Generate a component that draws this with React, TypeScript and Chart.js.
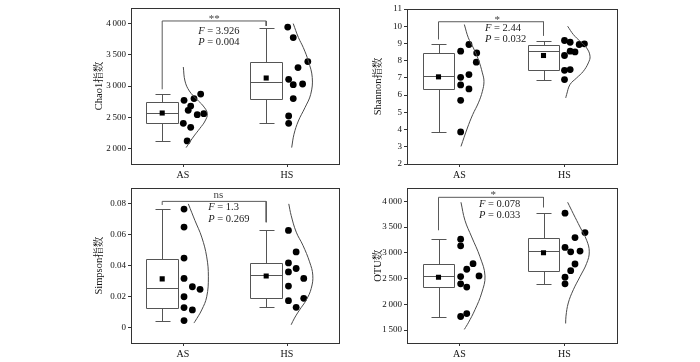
import React, { useEffect, useRef } from 'react';
import { Chart, registerables } from 'chart.js';

Chart.register(...registerables);

// ---------- data ----------
const categories = ['AS', 'HS'];

// Chao1
const chaoRange = [1750, 4250];
const chaoTicks = [2000, 2500, 3000, 3500, 4000];
const chaoAS = [2871, 2798, 2770, 2679, 2610, 2557, 2541, 2402, 2338, 2119];
const chaoASJitter = [0.17, 0.106, 0.01, 0.074, 0.05, 0.2, 0.137, 0.003, 0.074, 0.04];
const chaoHS = [3945, 3776, 3391, 3295, 3107, 3022, 3032, 2798, 2519, 2402];
const chaoHSJitter = [0.007, 0.06, 0.2, 0.106, 0.016, 0.06, 0.15, 0.06, 0.016, 0.016];
const chaoASBox = [2119, 2402, 2574, 2750, 2867];
const chaoHSBox = [2402, 2798, 3070, 3391, 3936];
const chaoMeans = [2567, 3128];
const chaoASCurveV = [3304, 3080, 2920, 2787, 2679, 2558, 2439, 2322, 2199, 2066, 2013];
const chaoASCurveW = [0.003, 0.019, 0.061, 0.132, 0.195, 0.234, 0.212, 0.163, 0.106, 0.051, 0.03];
const chaoHSCurveV = [4000, 3776, 3615, 3401, 3135, 2867, 2654, 2439, 2226, 2013];
const chaoHSCurveW = [0.06, 0.11, 0.157, 0.205, 0.243, 0.228, 0.173, 0.109, 0.067, 0.045];
const chaoBracket = [4042, 2947, 3962];
const chaoStats = ['**', '3.926', '0.004'];

// Shannon
const shRange = [2, 11];
const shTicks = [2, 3, 4, 5, 6, 7, 8, 9, 10, 11];
const shAS = [8.94, 8.55, 8.45, 7.91, 7.19, 7.03, 6.59, 6.36, 5.7, 3.86];
const shASJitter = [0.09, 0.011, 0.164, 0.16, 0.09, 0.011, 0.011, 0.09, 0.011, 0.011];
const shHS = [9.17, 9.07, 8.94, 8.98, 8.55, 8.51, 8.3, 7.48, 7.44, 6.9];
const shHSJitter = [0.0, 0.054, 0.14, 0.19, 0.054, 0.1, 0.0, 0.054, 0.0, 0.0];
const shASBox = [3.86, 6.36, 7.12, 8.45, 8.94];
const shHSBox = [6.9, 7.48, 8.55, 8.9, 9.17];
const shMeans = [7.06, 8.3];
const shASCurveV = [10.1, 9.33, 8.74, 8.06, 7.29, 6.8, 6.22, 5.55, 4.87, 4.09, 3.02];
const shASCurveW = [0.046, 0.084, 0.132, 0.18, 0.218, 0.233, 0.218, 0.18, 0.126, 0.075, 0.014];
const shHSCurveV = [10.0, 9.52, 9.13, 8.74, 8.26, 7.87, 7.38, 7.0, 6.61, 6.03, 5.84];
const shHSCurveW = [0.03, 0.084, 0.147, 0.211, 0.243, 0.227, 0.179, 0.116, 0.052, 0.02, 0.012];
const shBracket = [10.26, 9.23, 9.46];
const shStats = ['*', '2.44', '0.032'];

// Simpson
const siRange = [-0.01, 0.09];
const siTicks = [0, 0.02, 0.04, 0.06, 0.08];
const siAS = [0.0766, 0.065, 0.0449, 0.0318, 0.0264, 0.0247, 0.0199, 0.0129, 0.0114, 0.0045];
const siASJitter = [0.01, 0.01, 0.01, 0.01, 0.09, 0.164, 0.01, 0.01, 0.09, 0.01];
const siHS = [0.0628, 0.0489, 0.0418, 0.0382, 0.036, 0.0318, 0.0268, 0.0174, 0.0189, 0.0131];
const siHSJitter = [0.014, 0.088, 0.014, 0.088, 0.014, 0.161, 0.014, 0.014, 0.161, 0.088];
const siASBox = [0.0045, 0.0127, 0.0255, 0.0445, 0.0766];
const siHSBox = [0.0131, 0.0189, 0.0337, 0.0418, 0.0628];
const siMeans = [0.0315, 0.0333];
const siASCurveV = [0.08, 0.0692, 0.0585, 0.0457, 0.0328, 0.0199, 0.0114, 0.0039, 0.0029];
const siASCurveW = [0.051, 0.115, 0.18, 0.228, 0.244, 0.228, 0.18, 0.115, 0.105];
const siHSCurveV = [0.08, 0.0725, 0.0617, 0.0532, 0.0425, 0.0339, 0.0253, 0.0178, 0.0114, 0.0061, 0.0018];
const siHSCurveW = [0.017, 0.04, 0.089, 0.153, 0.217, 0.248, 0.233, 0.185, 0.121, 0.072, 0.04];
const siBracket = [0.0816, 0.0793, 0.0681];
const siStats = ['ns', '1.3', '0.269'];

// OTU
const otuRange = [1250, 4250];
const otuTicks = [1500, 2000, 2500, 3000, 3500, 4000];
const otuAS = [3264, 3135, 2789, 2681, 2552, 2539, 2398, 2335, 1821, 1764];
const otuASJitter = [0.011, 0.011, 0.129, 0.069, 0.186, 0.011, 0.011, 0.069, 0.069, 0.011];
const otuHS = [3769, 3392, 3296, 3104, 3019, 3033, 2783, 2654, 2527, 2398];
const otuHSJitter = [0.005, 0.195, 0.1, 0.005, 0.059, 0.148, 0.1, 0.059, 0.005, 0.005];
const otuASBox = [1764, 2335, 2552, 2783, 3264];
const otuHSBox = [2398, 2654, 3033, 3289, 3769];
const otuMeans = [2527, 3000];
const otuASCurveV = [3981, 3629, 3308, 2923, 2552, 2219, 1898, 1642, 1514];
const otuASCurveW = [0.014, 0.052, 0.116, 0.195, 0.243, 0.211, 0.148, 0.084, 0.046];
const otuHSCurveV = [3981, 3758, 3500, 3244, 3019, 2796, 2539, 2283, 2027, 1770, 1629];
const otuHSCurveW = [0.03, 0.084, 0.148, 0.211, 0.236, 0.211, 0.148, 0.084, 0.036, 0.014, 0.011];
const otuBracket = [4077, 3437, 3885];
const otuStats = ['*', '0.078', '0.033'];

// ---------- styling / layout ----------
const SERIF = "'Liberation Serif', 'Times New Roman', 'Noto Serif CJK SC', 'Noto Sans CJK SC', serif";
const W = 350;
const H = 181;
const TITLE_SIZE = 10.5;
const TICK_SIZE = 10;
const YTICK_SIZE = 9;
const BOX_OFF = -0.2;
const BOX_HALF = 0.152;
const CAP_HALF = 0.072;

const fmt = (v: number) => {
  if (Math.abs(v) >= 1000) return String(v).replace(/\B(?=(\d{3})+(?!\d))/g, '\u2009');
  return String(v);
};

type Group = { vals: number[]; jit: number[]; box: number[]; mean: number; cv: number[]; cw: number[] };
type Panel = {
  left: number; top: number;
  area: { left: number; top: number; right: number; bottom: number };
  titleX: number; yTitle: string;
  range: number[]; ticks: number[];
  groups: Group[];
  bracket: number[]; stats: string[];
  txt: { sigX: number; sigDy: number; fx: number; fDy: number; pDy: number };
};

const panels: Panel[] = [
  {
    left: 0, top: 0, area: { left: 131, top: 8, right: 339, bottom: 164 }, titleX: 99,
    yTitle: 'Chao1指数', range: chaoRange, ticks: chaoTicks,
    groups: [
      { vals: chaoAS, jit: chaoASJitter, box: chaoASBox, mean: chaoMeans[0], cv: chaoASCurveV, cw: chaoASCurveW },
      { vals: chaoHS, jit: chaoHSJitter, box: chaoHSBox, mean: chaoMeans[1], cv: chaoHSCurveV, cw: chaoHSCurveW },
    ],
    bracket: chaoBracket, stats: chaoStats,
    txt: { sigX: 0.3, sigDy: 1, fx: 0.147, fDy: 10.6, pDy: 21.6 },
  },
  {
    left: 350, top: 0, area: { left: 407, top: 9, right: 617, bottom: 164 }, titleX: 378.5,
    yTitle: 'Shannon指数', range: shRange, ticks: shTicks,
    groups: [
      { vals: shAS, jit: shASJitter, box: shASBox, mean: shMeans[0], cv: shASCurveV, cw: shASCurveW },
      { vals: shHS, jit: shHSJitter, box: shHSBox, mean: shMeans[1], cv: shHSCurveV, cw: shHSCurveW },
    ],
    bracket: shBracket, stats: shStats,
    txt: { sigX: 0.36, sigDy: 1, fx: 0.243, fDy: 6.5, pDy: 17.8 },
  },
  {
    left: 0, top: 181, area: { left: 131, top: 188, right: 339, bottom: 343 }, titleX: 99,
    yTitle: 'Simpson指数', range: siRange, ticks: siTicks,
    groups: [
      { vals: siAS, jit: siASJitter, box: siASBox, mean: siMeans[0], cv: siASCurveV, cw: siASCurveW },
      { vals: siHS, jit: siHSJitter, box: siHSBox, mean: siMeans[1], cv: siHSCurveV, cw: siHSCurveW },
    ],
    bracket: siBracket, stats: siStats,
    txt: { sigX: 0.34, sigDy: -3, fx: 0.243, fDy: 5.8, pDy: 17.8 },
  },
  {
    left: 350, top: 181, area: { left: 407, top: 188, right: 617, bottom: 343 }, titleX: 378.5,
    yTitle: 'OTU数', range: otuRange, ticks: otuTicks,
    groups: [
      { vals: otuAS, jit: otuASJitter, box: otuASBox, mean: otuMeans[0], cv: otuASCurveV, cw: otuASCurveW },
      { vals: otuHS, jit: otuHSJitter, box: otuHSBox, mean: otuMeans[1], cv: otuHSCurveV, cw: otuHSCurveW },
    ],
    bracket: otuBracket, stats: otuStats,
    txt: { sigX: 0.322, sigDy: 1, fx: 0.186, fDy: 7.3, pDy: 18.3 },
  },
];

function buildChart(canvas: HTMLCanvasElement, p: Panel) {
  const aL = p.area.left - p.left;
  const aR = p.area.right - p.left;
  const aT = p.area.top - p.top;
  const aB = p.area.bottom - p.top;
  const titleOffset = (TITLE_SIZE * 1.2) / 2;
  const padLeft = p.titleX - p.left - titleOffset;
  const yWidth = aL - padLeft;
  const xHeight = H - aB;

  const datasets: any[] = [];
  p.groups.forEach((g, gi) => {
    datasets.push({
      data: g.cv.map((v, i) => ({ x: gi + g.cw[i], y: v })),
      showLine: true, tension: 0.4, borderColor: '#4a4a4a', borderWidth: 1,
      pointRadius: 0, fill: false,
    });
    datasets.push({
      data: g.vals.map((v, i) => ({ x: gi + g.jit[i], y: v })),
      pointRadius: 3.4, backgroundColor: '#000', borderWidth: 0, pointStyle: 'circle',
    });
    datasets.push({
      data: [{ x: gi + BOX_OFF, y: g.mean }],
      pointRadius: 3.6, backgroundColor: '#000', borderWidth: 0, pointStyle: 'rect',
    });
  });
  const [bTop, bL, bR] = p.bracket;
  datasets.push({
    data: [
      { x: BOX_OFF, y: bL }, { x: BOX_OFF, y: bTop },
      { x: 1 + BOX_OFF, y: bTop }, { x: 1 + BOX_OFF, y: bR },
    ],
    showLine: true, tension: 0, borderColor: '#5a5a5a', borderWidth: 1, pointRadius: 0, fill: false,
  });

  const boxPlugin = {
    id: 'boxes',
    beforeDatasetsDraw(chart: any) {
      const { ctx } = chart;
      const xs = chart.scales.x;
      const ys = chart.scales.y;
      const py = (v: number) => Math.round(ys.getPixelForValue(v)) + 0.5;
      const px = (v: number) => Math.round(xs.getPixelForValue(v)) + 0.5;
      ctx.save();
      ctx.strokeStyle = '#555';
      ctx.lineWidth = 1;
      p.groups.forEach((g, gi) => {
        const [lo, q1, med, q3, hi] = g.box;
        const c = gi + BOX_OFF;
        const L = px(c - BOX_HALF), R = px(c + BOX_HALF), C = px(c);
        const cl = px(c - CAP_HALF), cr = px(c + CAP_HALF);
        ctx.beginPath();
        ctx.rect(L, py(q3), R - L, py(q1) - py(q3));
        ctx.moveTo(L, py(med)); ctx.lineTo(R, py(med));
        ctx.moveTo(C, py(q3)); ctx.lineTo(C, py(hi));
        ctx.moveTo(C, py(q1)); ctx.lineTo(C, py(lo));
        ctx.moveTo(cl, py(hi)); ctx.lineTo(cr, py(hi));
        ctx.moveTo(cl, py(lo)); ctx.lineTo(cr, py(lo));
        ctx.stroke();
      });
      ctx.restore();
    },
  };

  const textPlugin = {
    id: 'stats',
    afterDatasetsDraw(chart: any) {
      const { ctx } = chart;
      const xs = chart.scales.x;
      const ys = chart.scales.y;
      const yB = ys.getPixelForValue(bTop);
      const [sig, fVal, pVal] = p.stats;
      ctx.save();
      ctx.fillStyle = '#444';
      ctx.font = `11px ${SERIF}`;
      ctx.textAlign = 'center';
      ctx.textBaseline = 'alphabetic';
      ctx.fillText(sig, xs.getPixelForValue(p.txt.sigX), yB + p.txt.sigDy);
      ctx.fillStyle = '#222';
      ctx.textAlign = 'left';
      ctx.textBaseline = 'middle';
      const fx = xs.getPixelForValue(p.txt.fx);
      const drawStat = (letter: string, val: string, y: number) => {
        ctx.font = `italic 10.5px ${SERIF}`;
        ctx.fillText(letter, fx, y);
        const w = ctx.measureText(letter).width;
        ctx.font = `10.5px ${SERIF}`;
        ctx.fillText(' = ' + val, fx + w, y);
      };
      drawStat('F', fVal, yB + p.txt.fDy);
      drawStat('P', pVal, yB + p.txt.pDy);
      ctx.restore();
    },
  };

  const framePlugin = {
    id: 'frame',
    afterDraw(chart: any) {
      const { ctx, chartArea: a } = chart;
      ctx.save();
      ctx.strokeStyle = '#333';
      ctx.lineWidth = 1;
      ctx.strokeRect(Math.round(a.left) + 0.5, Math.round(a.top) + 0.5, Math.round(a.right - a.left), Math.round(a.bottom - a.top));
      ctx.restore();
    },
  };

  return new Chart(canvas, {
    type: 'scatter',
    data: { datasets },
    plugins: [boxPlugin, textPlugin, framePlugin],
    options: {
      responsive: false,
      animation: false,
      events: [],
      layout: { padding: { left: padLeft, top: aT, right: W - aR, bottom: 0 } },
      plugins: { legend: { display: false }, tooltip: { enabled: false } },
      scales: {
        x: {
          type: 'linear', min: -0.5, max: 1.5,
          afterBuildTicks: (s: any) => { s.ticks = [{ value: 0 }, { value: 1 }]; },
          afterFit: (s: any) => { s.height = xHeight; },
          ticks: {
            callback: (v: any) => categories[Math.round(Number(v))],
            font: { family: SERIF, size: TICK_SIZE }, color: '#111', padding: 2, maxRotation: 0,
          },
          grid: { display: true, drawOnChartArea: false, drawTicks: true, tickLength: 3, color: '#333' },
          border: { display: true, color: '#333' },
        },
        y: {
          type: 'linear', min: p.range[0], max: p.range[1],
          afterBuildTicks: (s: any) => { s.ticks = p.ticks.map((v) => ({ value: v })); },
          afterFit: (s: any) => { s.width = yWidth; },
          ticks: {
            callback: (v: any) => fmt(Number(v)),
            font: { family: SERIF, size: YTICK_SIZE }, color: '#111', padding: 2,
          },
          grid: { display: true, drawOnChartArea: false, drawTicks: true, tickLength: 3, color: '#333' },
          border: { display: true, color: '#333' },
          title: {
            display: true, text: p.yTitle, color: '#111', padding: 0,
            font: { family: SERIF, size: TITLE_SIZE },
          },
        },
      },
    },
  } as any);
}

function PanelChart({ p }: { p: Panel }) {
  const ref = useRef<HTMLCanvasElement | null>(null);
  useEffect(() => {
    if (!ref.current) return;
    const chart = buildChart(ref.current, p);
    return () => chart.destroy();
  }, [p]);
  return (
    <canvas
      ref={ref}
      width={W}
      height={H}
      style={{ position: 'absolute', left: p.left, top: p.top, width: W, height: H }}
    />
  );
}

export default function App() {
  return (
    <div style={{ position: 'fixed', left: 0, top: 0, width: 700, height: 362, background: '#fff', overflow: 'hidden' }}>
      {panels.map((p, i) => (
        <PanelChart key={i} p={p} />
      ))}
    </div>
  );
}
